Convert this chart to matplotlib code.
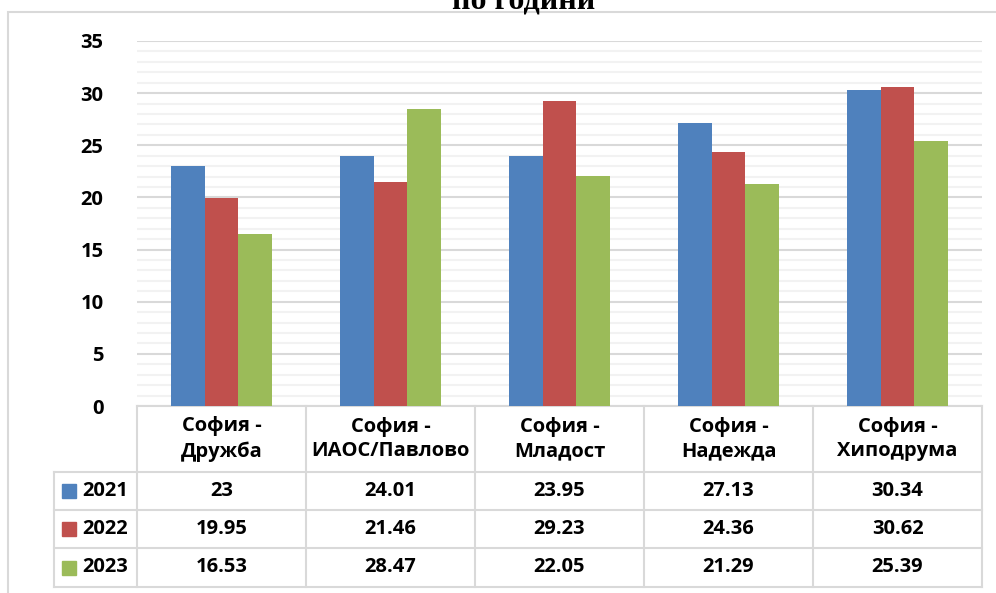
import numpy as np
import matplotlib.pyplot as plt
import matplotlib.transforms as mtransforms
from matplotlib.lines import Line2D
from matplotlib.patches import Rectangle

plt.rcParams['font.family'] = ['Open Sans', 'DejaVu Sans']

stations = ['София -\nДружба', 'София -\nИАОС/Павлово', 'София -\nМладост',
            'София -\nНадежда', 'София -\nХиподрума']
years = ['2021', '2022', '2023']
v2021 = [23, 24.01, 23.95, 27.13, 30.34]
v2022 = [19.95, 21.46, 29.23, 24.36, 30.62]
v2023 = [16.53, 28.47, 22.05, 21.29, 25.39]
labels2021 = ['23', '24.01', '23.95', '27.13', '30.34']
labels2022 = ['19.95', '21.46', '29.23', '24.36', '30.62']
labels2023 = ['16.53', '28.47', '22.05', '21.29', '25.39']
colors = ['#4F81BD', '#C0504D', '#9BBB59']

W, H = 996, 593
FS = 14.5
fig = plt.figure(figsize=(W / 100, H / 100), dpi=100)

# outer chart frame
fig.add_artist(Rectangle((8 / W, -0.05), 1.1, 1.05 - 12 / H, transform=fig.transFigure,
                         fill=False, edgecolor='#D9D9D9', lw=1.5))
fig.text(524 / W, 1 - 8 / H, 'по години', family='Liberation Serif',
         fontweight='bold', fontsize=23, ha='center', va='baseline')

ax_top, ax_bot = 41, 406
ax = fig.add_axes([137 / W, 1 - ax_bot / H, 845 / W, (ax_bot - ax_top) / H])
x = np.arange(len(stations))
bw = 0.2
series = [v2021, v2022, v2023]
for i, vals in enumerate(series):
    ax.bar(x + (i - 1) * bw, vals, bw, color=colors[i], zorder=3, linewidth=0)

ax.set_xlim(-0.5, 4.5)
ax.set_ylim(0, 35)
ax.set_yticks(np.arange(0, 36, 5))
ax.set_yticks(np.arange(0, 36, 1), minor=True)
ax.grid(axis='y', which='major', color='#D9D9D9', lw=1.5, zorder=0)
ax.grid(axis='y', which='minor', color='#F2F2F2', lw=1.5, zorder=0)
ax.tick_params(axis='y', which='both', length=0, pad=24, labelsize=FS)
for lbl in ax.get_yticklabels():
    lbl.set_fontweight('bold')
ax.set_xticks([])
for s in ax.spines.values():
    s.set_visible(False)

# data table under the plot
ah = ax_bot - ax_top
def ypx(p):
    return (ax_bot - p) / ah

tr = mtransforms.blended_transform_factory(ax.transData, ax.transAxes)
rows = [406, 472, 510, 548, 587]
left_x = -0.5 - 83 / 169
grid_c = '#D9D9D9'
lkw = dict(transform=tr, color=grid_c, lw=1.5, clip_on=False)

ax.add_line(Line2D([-0.5, 4.5], [ypx(rows[0])] * 2, **lkw))
for r in rows[1:]:
    ax.add_line(Line2D([left_x, 4.5], [ypx(r)] * 2, **lkw))
for cx in np.arange(-0.5, 4.6, 1):
    ax.add_line(Line2D([cx, cx], [ypx(rows[0]), ypx(rows[-1])], **lkw))
ax.add_line(Line2D([left_x, left_x], [ypx(rows[1]), ypx(rows[-1])], **lkw))

tkw = dict(transform=tr, ha='center', va='center', fontsize=FS,
           fontweight='bold', clip_on=False)
for i, name in enumerate(stations):
    ax.text(x[i], ypx((rows[0] + rows[1]) / 2), name, linespacing=1.3, **tkw)

cell_labels = [labels2021, labels2022, labels2023]
for r, (yr, labs) in enumerate(zip(years, cell_labels)):
    yc = ypx((rows[r + 1] + rows[r + 2]) / 2)
    for i, lab in enumerate(labs):
        ax.text(x[i], yc, lab, **tkw)
    ax.add_patch(Rectangle((left_x + 8 / 169, yc - 7 / ah), 14 / 169, 14 / ah,
                           transform=tr, color=colors[r], clip_on=False))
    ax.text(left_x + 28 / 169, yc, yr, transform=tr, ha='left', va='center',
            fontsize=FS, fontweight='bold', clip_on=False)

fig.savefig('out.png', dpi=100)
